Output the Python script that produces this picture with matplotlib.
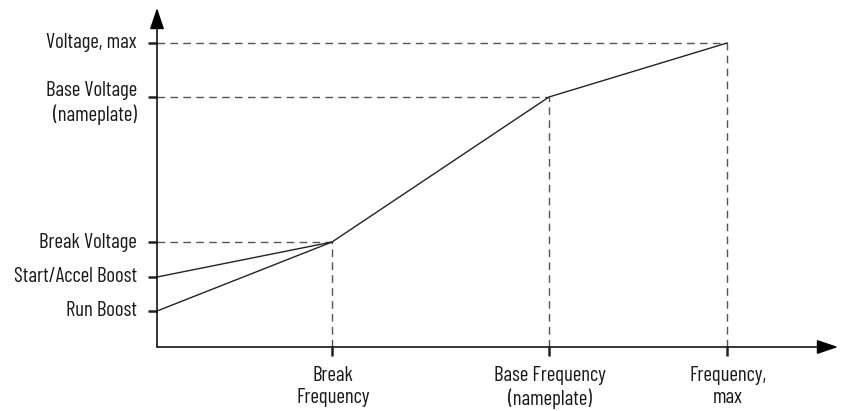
import matplotlib
matplotlib.use("Agg")
import matplotlib.pyplot as plt

plt.rcParams['font.family'] = ['Barlow Condensed', 'Roboto Condensed', 'DejaVu Sans']

# V/Hz curve (arbitrary units)
freq_pts = [0, 175, 392, 570]          # origin, break, base, max
volt_run = [36, 105, 250, 304]         # run boost -> break -> base -> max
start_boost = 70
break_volt = 105

y_ticks = [304, 250, 105, 70, 36]
y_labels = ["Voltage, max", "Base Voltage\n(nameplate)", "Break Voltage",
            "Start/Accel Boost", "Run Boost"]
x_ticks = [175, 392, 570]
x_labels = ["Break\nFrequency", "Base Frequency\n(nameplate)", "Frequency,\nmax"]

W, H = 845, 411
fig = plt.figure(figsize=(W / 100, H / 100), dpi=100)
# axes placed so that one data unit is one pixel
ax = fig.add_axes([157 / W, 64 / H, (838 - 157) / W, (347 - 8) / H])
ax.set_xlim(0, 681)
ax.set_ylim(0, 339)
for s in ax.spines.values():
    s.set_visible(False)

# axis arrows
arrow = dict(arrowstyle="-|>,head_length=0.65,head_width=0.22", color="black",
             lw=1.1, shrinkA=0, shrinkB=0, mutation_scale=20)
ax.annotate("", xy=(681, 0), xytext=(0, 0), arrowprops=arrow, annotation_clip=False)
ax.annotate("", xy=(0, 339), xytext=(0, 0), arrowprops=arrow, annotation_clip=False)

# dashed guide lines
dash = dict(color="#555555", lw=1.0, dashes=(5.5, 3.8))
for fx, vy in zip(freq_pts[1:], volt_run[1:]):
    ax.plot([0, fx], [vy, vy], **dash)
    ax.plot([fx, fx], [0, vy], **dash)

# curves
ax.plot(freq_pts, volt_run, color="#222222", lw=1.0)
ax.plot([0, freq_pts[1]], [start_boost, break_volt], color="#222222", lw=1.0)

# ticks
ax.set_xticks(x_ticks)
ax.set_yticks(y_ticks)
ax.set_xticklabels([])
ax.set_yticklabels([])
ax.tick_params(direction="out", length=6.5, width=1.8, color="#222222")

fs = 15
for y, lab in zip(y_ticks, y_labels):
    if "\n" in lab:
        ax.text(-20, y - 6, lab, ha="right", va="center", fontsize=fs,
                multialignment="right", linespacing=1.3, color="#1a1a1a")
    else:
        ax.text(-20, y, lab, ha="right", va="center", fontsize=fs, color="#1a1a1a")
for x, lab in zip(x_ticks, x_labels):
    ax.text(x + 1, -19, lab, ha="center", va="top", fontsize=fs,
            linespacing=1.2, color="#1a1a1a")

fig.savefig("out.png", dpi=100)
